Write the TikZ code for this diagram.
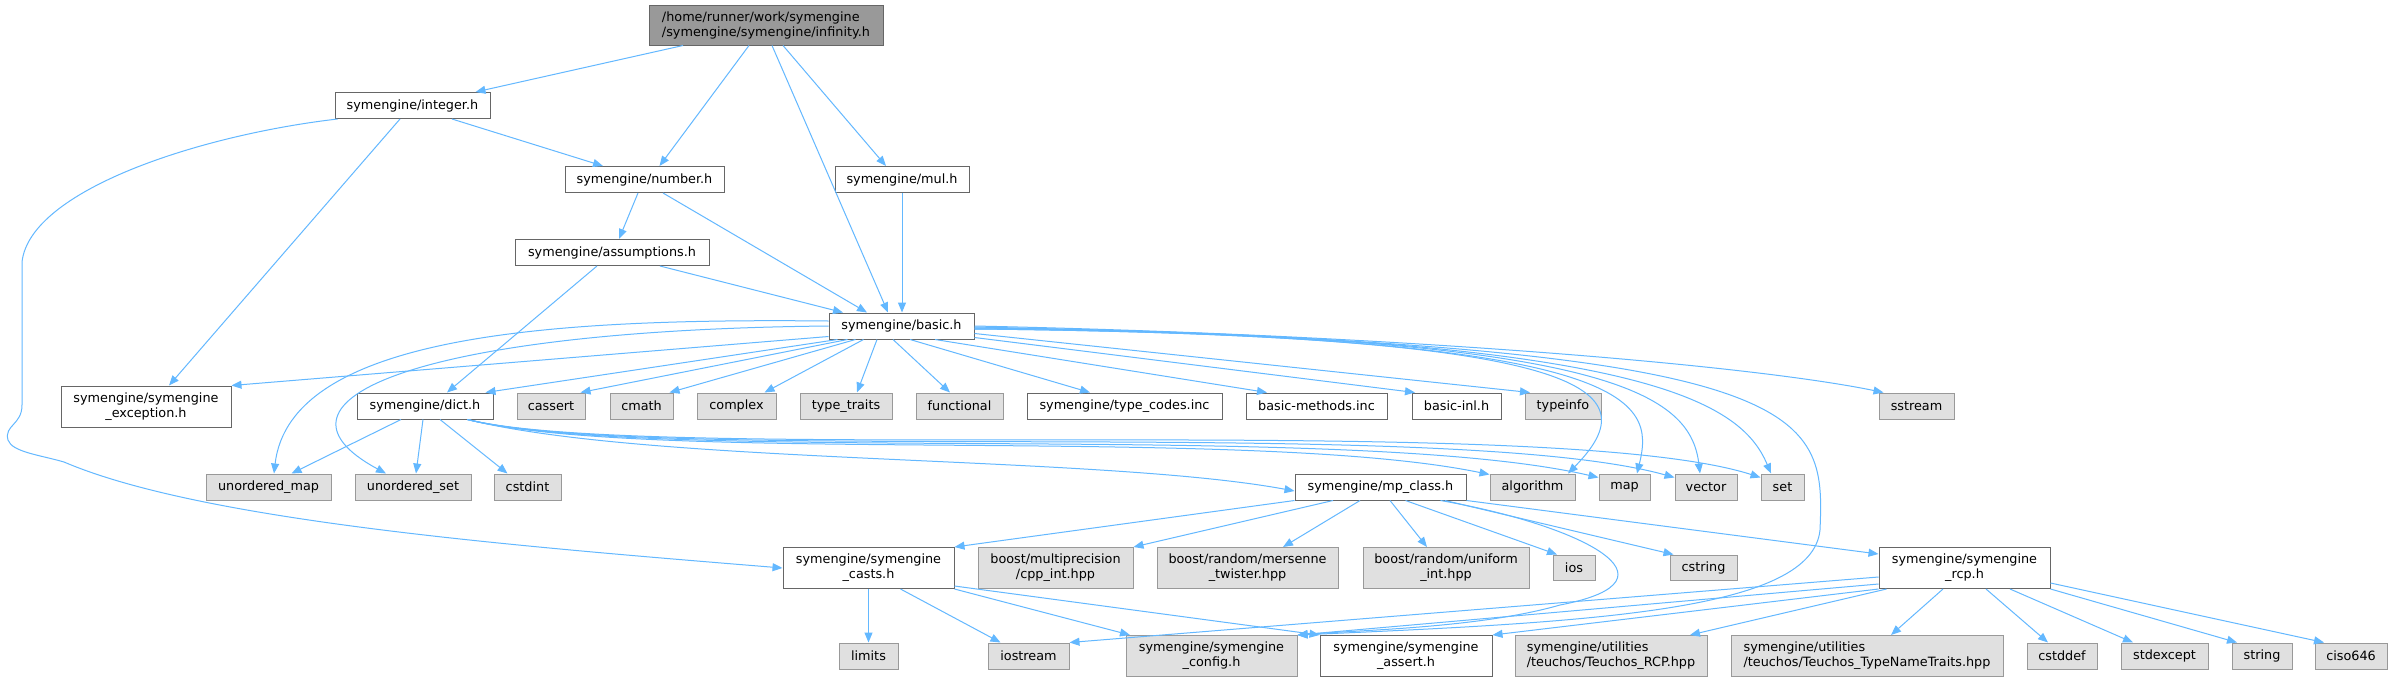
\documentclass[tikz,border=0pt]{standalone}
\usepackage{fontspec}
\setmainfont{DejaVu Sans}
\usetikzlibrary{arrows.meta}
\definecolor{edgeblue}{HTML}{63B8FF}
\definecolor{projborder}{HTML}{666666}
\definecolor{sysfill}{HTML}{E0E0E0}
\definecolor{sysborder}{HTML}{999999}
\definecolor{rootfill}{HTML}{999999}

\begin{document}
\begin{tikzpicture}[x=1pt,y=-1pt,
  every node/.style={font=\fontsize{12.8}{15}\selectfont,inner sep=0pt,minimum height=26pt},
  proj/.style={draw=projborder,fill=white,line width=1pt},
  sys/.style={draw=sysborder,fill=sysfill,line width=1pt},
  twoline/.style={minimum height=41pt,align=center},
  inc/.style={draw=edgeblue,line width=1pt,-{Triangle[length=10pt,width=8pt]}}]
  \useasboundingbox[fill=white] (0,0) rectangle (2393,681);
  % top rows
  \node[draw=projborder,fill=rootfill,line width=1pt,minimum width=234pt,minimum height=40pt,align=left] (root) at (766,25)
    {/home/runner/work/symengine\\/symengine/symengine/infinity.h};
  \node[proj,minimum width=155pt] (integer) at (412.5,105.5) {symengine/integer.h};
  \node[proj,minimum width=159pt] (number) at (644.5,179.5) {symengine/number.h};
  \node[proj,minimum width=134pt] (mul) at (902,179.5) {symengine/mul.h};
  \node[proj,minimum width=194pt] (assumptions) at (612,252.5) {symengine/assumptions.h};
  \node[proj,minimum width=145pt] (basic) at (901.5,326) {symengine/basic.h};
  % row under basic.h
  \node[proj,twoline,minimum width=170pt] (exception) at (146,406.5) {symengine/symengine\\\_exception.h};
  \node[proj,minimum width=136pt] (dict) at (425,406) {symengine/dict.h};
  \node[sys,minimum width=68pt] (cassert) at (551,406) {cassert};
  \node[sys,minimum width=63pt] (cmath) at (641.5,406) {cmath};
  \node[sys,minimum width=79pt] (complex) at (736.5,406) {complex};
  \node[sys,minimum width=92pt] (typetraits) at (846,406) {type\_traits};
  \node[sys,minimum width=87pt] (functional) at (959.5,406) {functional};
  \node[proj,minimum width=195pt] (typecodes) at (1124.5,406) {symengine/type\_codes.inc};
  \node[proj,minimum width=141pt] (basicmethods) at (1316.5,406) {basic-methods.inc};
  \node[proj,minimum width=89pt] (basicinl) at (1456.5,406) {basic-inl.h};
  \node[sys,minimum width=76pt] (typeinfo) at (1563,406) {typeinfo};
  \node[sys,minimum width=75pt] (sstream) at (1916.5,406) {sstream};
  % row of dict.h
  \node[sys,minimum width=125pt] (umap) at (268.5,487) {unordered\_map};
  \node[sys,minimum width=116pt] (uset) at (413,487) {unordered\_set};
  \node[sys,minimum width=67pt] (cstdint) at (527.5,487) {cstdint};
  \node[proj,minimum width=171pt] (mpclass) at (1380.5,487) {symengine/mp\_class.h};
  \node[sys,minimum width=85pt] (algorithm) at (1532.5,487) {algorithm};
  \node[sys,minimum width=51pt] (map) at (1624.5,487) {map};
  \node[sys,minimum width=62pt] (vector) at (1706,487) {vector};
  \node[sys,minimum width=43pt] (set) at (1782.5,487) {set};
  % row of mp_class.h
  \node[proj,twoline,minimum width=171pt] (casts) at (868.5,568) {symengine/symengine\\\_casts.h};
  \node[sys,twoline,minimum width=155pt] (boostmp) at (1055.5,568) {boost/multiprecision\\/cpp\_int.hpp};
  \node[sys,twoline,minimum width=181pt] (mersenne) at (1247.5,568) {boost/random/mersenne\\\_twister.hpp};
  \node[sys,twoline,minimum width=166pt] (uniform) at (1446,568) {boost/random/uniform\\\_int.hpp};
  \node[sys,minimum width=42pt,minimum height=25pt] (ios) at (1574,567.5) {ios};
  \node[sys,minimum width=67pt,minimum height=25pt] (cstring) at (1703.5,567.5) {cstring};
  \node[proj,twoline,minimum width=171pt] (rcp) at (1964.5,568) {symengine/symengine\\\_rcp.h};
  % bottom row
  \node[sys,minimum width=59pt] (limits) at (868.5,656) {limits};
  \node[sys,minimum width=81pt] (iostream) at (1028.5,656) {iostream};
  \node[sys,twoline,minimum width=171pt] (config) at (1211.5,656) {symengine/symengine\\\_config.h};
  \node[proj,twoline,minimum width=172pt] (assert) at (1406,656) {symengine/symengine\\\_assert.h};
  \node[sys,minimum width=192pt,minimum height=41pt,align=left] (teuchosrcp) at (1611,656)
    {symengine/utilities\\/teuchos/Teuchos\_RCP.hpp};
  \node[sys,minimum width=272pt,minimum height=41pt,align=left] (typenametraits) at (1867,656)
    {symengine/utilities\\/teuchos/Teuchos\_TypeNameTraits.hpp};
  \node[sys,minimum width=70pt] (cstddef) at (2062,656) {cstddef};
  \node[sys,minimum width=87pt] (stdexcept) at (2164.5,656) {stdexcept};
  \node[sys,minimum width=60pt] (string) at (2262,656) {string};
  \node[sys,minimum width=72pt] (ciso646) at (2351,656) {ciso646};

  % infinity.h
  \draw[inc] ([xshift=-83pt]root.south) -- ([xshift=63pt]integer.north);
  \draw[inc] ([xshift=-17pt]root.south) -- ([xshift=15pt]number.north);
  \draw[inc] ([xshift=6pt]root.south) -- ([xshift=-13.5pt]basic.north);
  \draw[inc] ([xshift=17pt]root.south) -- ([xshift=-16pt]mul.north);
  % integer.h
  \draw[inc] ([xshift=39.5pt]integer.south) -- ([xshift=-41.5pt]number.north);
  \draw[inc] ([xshift=-12.5pt]integer.south) -- ([xshift=23pt]exception.north);
  \draw[inc] ([xshift=3pt]integer.south west) .. controls (200,135) and (30,190) .. (22,262) -- (22,405)
    .. controls (22,425) and (4,425) .. (8,440) .. controls (12,452) and (40,455) .. (64,462)
    .. controls (200,520) and (500,545) .. (casts.west);
  % number.h, mul.h, assumptions.h
  \draw[inc] ([xshift=-6.5pt]number.south) -- ([xshift=7pt]assumptions.north);
  \draw[inc] ([xshift=18.5pt]number.south) -- ([xshift=-34.5pt]basic.north);
  \draw[inc] (mul.south) -- (mul.south |- basic.north);
  \draw[inc] ([xshift=48pt]assumptions.south) -- ([xshift=-58.5pt]basic.north);
  \draw[inc] ([xshift=-15pt]assumptions.south) -- ([xshift=22pt]dict.north);
  % basic.h
  \draw[inc] ([yshift=3pt]basic.south west) -- (exception.north east);
  \draw[inc] ([xshift=9pt]basic.south west) -- ([xshift=-8pt]dict.north east);
  \draw[inc] ([xshift=19pt]basic.south west) -- ([xshift=-5pt]cassert.north east);
  \draw[inc] ([xshift=27pt]basic.south west) -- ([xshift=-4pt]cmath.north east);
  \draw[inc] ([xshift=35pt]basic.south west) -- ([xshift=28pt]complex.north);
  \draw[inc] ([xshift=-24.5pt]basic.south) -- ([xshift=11pt]typetraits.north);
  \draw[inc] ([xshift=-8.5pt]basic.south) -- ([xshift=-9.5pt]functional.north);
  \draw[inc] ([xshift=8.5pt]basic.south) -- ([xshift=-34.5pt]typecodes.north);
  \draw[inc] ([xshift=33.5pt]basic.south) -- ([xshift=-49.5pt]basicmethods.north);
  \draw[inc] ([yshift=2pt]basic.south east) -- ([xshift=-41.5pt]basicinl.north);
  \draw[inc] ([yshift=6pt]basic.south east) -- ([xshift=-33pt]typeinfo.north);
  \draw[inc] (basic.east) .. controls (1400,335) and (1750,365) .. ([xshift=-33pt]sstream.north);
  \draw[inc] ([yshift=-3pt]basic.east) .. controls (1600,335) and (1650,390) .. ([xshift=35.5pt]algorithm.north);
  \draw[inc] ([yshift=-3pt]basic.east) .. controls (1640,335) and (1655,400) .. ([xshift=12.5pt]map.north);
  \draw[inc] ([yshift=-2pt]basic.east) .. controls (1600,335) and (1690,390) .. ([xshift=-6pt]vector.north);
  \draw[inc] ([yshift=-2pt]basic.east) .. controls (1640,335) and (1740,400) .. ([xshift=-11.5pt]set.north);
  \draw[inc] ([yshift=-1pt]basic.east) .. controls (1820,345) and (1825,410) .. (1820,530)
    .. controls (1812,610) and (1600,622) .. (config.north east);
  \draw[inc] ([yshift=5pt]basic.west) .. controls (550,318) and (290,335) .. ([xshift=5.5pt]umap.north);
  \draw[inc] (basic.west) .. controls (420,330) and (250,400) .. ([xshift=-27pt]uset.north);
  % dict.h
  \draw[inc] ([xshift=-24pt]dict.south) -- ([xshift=23pt]umap.north);
  \draw[inc] ([xshift=-2pt]dict.south) -- ([xshift=3pt]uset.north);
  \draw[inc] ([xshift=15pt]dict.south) -- ([xshift=-20pt]cstdint.north);
  \draw[inc] ([xshift=-26pt]dict.south east) .. controls (650,465) and (1100,455) .. ([yshift=-4pt]mpclass.west);
  \draw[inc] ([xshift=-26pt]dict.south east) .. controls (650,465) and (1250,425) .. ([yshift=-1pt]algorithm.north west);
  \draw[inc] ([xshift=-26pt]dict.south east) .. controls (650,465) and (1350,420) .. ([yshift=-4pt]map.north west);
  \draw[inc] ([xshift=-26pt]dict.south east) .. controls (650,465) and (1450,415) .. ([yshift=-4pt]vector.north west);
  \draw[inc] ([xshift=-26pt]dict.south east) .. controls (650,465) and (1550,410) .. ([yshift=-4pt]set.north west);
  % mp_class.h
  \draw[inc] (mpclass.south west) -- (casts.north east);
  \draw[inc] ([xshift=-47.5pt]mpclass.south) -- (boostmp.north east);
  \draw[inc] ([xshift=-20.5pt]mpclass.south) -- ([xshift=35.5pt]mersenne.north);
  \draw[inc] ([xshift=9.5pt]mpclass.south) -- ([xshift=-19pt]uniform.north);
  \draw[inc] ([xshift=25pt]mpclass.south) -- ([xshift=-17pt]ios.north);
  \draw[inc] ([xshift=64.5pt]mpclass.south) -- ([xshift=-30pt]cstring.north);
  \draw[inc] (mpclass.south east) -- ([yshift=-7pt]rcp.north west);
  \draw[inc] ([xshift=60pt]mpclass.south) .. controls (1580,525) and (1690,580) .. (1560,605)
    .. controls (1480,628) and (1360,630) .. (config.north east);
  % symengine_casts.h
  \draw[inc] (casts.south) -- (limits.north);
  \draw[inc] ([xshift=32pt]casts.south) -- ([xshift=-28pt]iostream.north);
  \draw[inc] (casts.south east) -- ([xshift=-81.5pt]config.north);
  \draw[inc] ([yshift=3pt]casts.south east) -- (assert.north west);
  % symengine_rcp.h
  \draw[inc] ([yshift=-30pt]rcp.north west) -- (iostream.north east);
  \draw[inc] ([yshift=-37pt]rcp.north west) -- (config.north east);
  \draw[inc] (rcp.south west) -- (assert.north east);
  \draw[inc] ([xshift=8pt]rcp.south west) -- ([xshift=79pt]teuchosrcp.north);
  \draw[inc] ([xshift=-21.5pt]rcp.south) -- ([xshift=24pt]typenametraits.north);
  \draw[inc] ([xshift=21.5pt]rcp.south) -- ([xshift=-14pt]cstddef.north);
  \draw[inc] ([xshift=45.5pt]rcp.south) -- ([xshift=-31.5pt]stdexcept.north);
  \draw[inc] (rcp.south east) -- ([xshift=-25pt]string.north);
  \draw[inc] ([yshift=6pt]rcp.south east) -- ([xshift=-27pt]ciso646.north);
\end{tikzpicture}
\end{document}
